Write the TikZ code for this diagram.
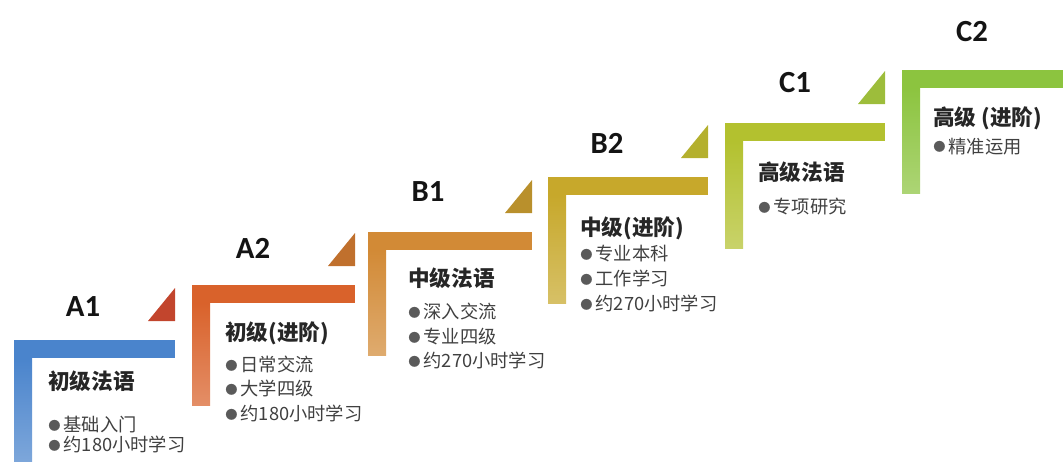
\documentclass[tikz,border=0pt]{standalone}
\usepackage{fontspec}
\setmainfont{Carlito}
\newfontfamily\cjk{Noto Sans CJK SC}
\usetikzlibrary{positioning}

\definecolor{barA1}{HTML}{4A84CC}
\definecolor{barA2}{HTML}{D9622B}
\definecolor{barB1}{HTML}{D28A36}
\definecolor{barB2}{HTML}{C7A82B}
\definecolor{barC1}{HTML}{B3C12F}
\definecolor{barC2}{HTML}{8CC43F}
\definecolor{cornA1}{HTML}{C2452D}
\definecolor{cornA2}{HTML}{C0702D}
\definecolor{cornB1}{HTML}{B9902C}
\definecolor{cornB2}{HTML}{B4B02E}
\definecolor{cornC1}{HTML}{9DBD3B}
\definecolor{dotgray}{HTML}{5A5A5A}

\newcommand\bul{\textcolor{dotgray}{\raisebox{0.6pt}{\fontsize{7}{7}\selectfont ●}}\,}

\begin{document}
\begin{tikzpicture}[
    x=0.02cm,
    y=-0.02cm,
    level/.style={font=\bfseries\fontsize{17.5}{20}\selectfont, text=black!92},
    title/.style={anchor=west, inner sep=0pt, font=\cjk\bfseries\fontsize{12.3}{15}\selectfont, text=black!85},
    items/.style={inner sep=0pt, align=left, font=\cjk\fontsize{10.4}{14}\selectfont, text=black!75},
]

    \useasboundingbox (0,0) rectangle (1063,461);

    % steps: left/top/right/bottom/bar colour/corner colour
    \foreach \l/\t/\r/\b/\c/\k in {14/340/175/461/barA1/cornA1,
                                   192/285/355/405/barA2/cornA2,
                                   368/232/532/355/barB1/cornB1,
                                   548/177/708/303/barB2/cornB2,
                                   725/123/885/248/barC1/cornC1}{
        \fill[\c] (\l,\t) rectangle (\r,\t+18);
        \shade[top color=\c, bottom color=\c!72!white] (\l,\t+18) rectangle (\l+18,\b);
        \fill[\k] (\r-27,\t-19) -- (\r,\t-52) -- (\r,\t-19) -- cycle;
    }
    \fill[barC2] (902,70) rectangle (1063,88);
    \shade[top color=barC2, bottom color=barC2!72!white] (902,88) rectangle (920,193);

    \node[level] (A1) at (83,307) {A1};
    \node[level] (A2) at (253,248) {A2};
    \node[level] (B1) at (428,192) {B1};
    \node[level] (B2) at (607,143) {B2};
    \node[level] (C1) at (795,83)  {C1};
    \node[level] (C2) at (972,32)  {C2};

    \node[title] (tA1) at (48,381)  {初级法语};
    \node[title] (tA2) at (225,333) {初级(进阶)};
    \node[title] (tB1) at (408,278) {中级法语};
    \node[title] (tB2) at (580,228) {中级(进阶)};
    \node[title] (tC1) at (758,172) {高级法语};
    \node[title] (tC2) at (933,118) {高级 (进阶)};

    \node[items, below right=13.5pt and 0pt of tA1.south west] (iA1) {\bul 基础入门\\[-2.5pt]\bul 约180小时学习};
    \node[items, below right=6pt and 0pt of tA2.south west]  (iA2) {\bul 日常交流\\\bul 大学四级\\\bul 约180小时学习};
    \node[items, below right=8pt and 0pt of tB1.south west]  (iB1) {\bul 深入交流\\\bul 专业四级\\\bul 约270小时学习};
    \node[items, below right=3pt and 0pt of tB2.south west]  (iB2) {\bul 专业本科\\\bul 工作学习\\\bul 约270小时学习};
    \node[items, below right=8.5pt and 0pt of tC1.south west] (iC1) {\bul 专项研究};
    \node[items, below right=4.2pt and 0pt of tC2.south west] (iC2) {\bul 精准运用};

\end{tikzpicture}
\end{document}
